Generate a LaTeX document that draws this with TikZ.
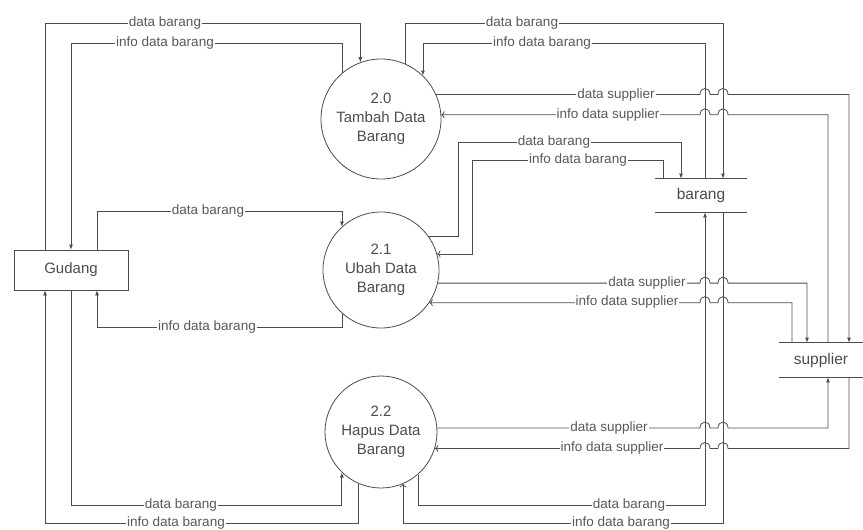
\documentclass[tikz,border=0pt]{standalone}
\usepackage{fontspec}
\setmainfont{Liberation Sans}
\usetikzlibrary{arrows.meta,calc}
\begin{document}
\begin{tikzpicture}[x=1pt,y=-1pt,line width=0.8pt,
  flow/.style={draw=black!70, -{Latex[length=5pt,width=4pt]}},
  proc/.style={draw=black!70, circle, align=center, inner sep=0pt, text=black!70, font=\fontsize{15}{19}\selectfont},
  ent/.style={draw=black!70, rectangle, minimum width=114pt, minimum height=40pt, text=black!70, font=\fontsize{15}{18}\selectfont},
  store/.style={rectangle, text=black!70, font=\fontsize{15.5}{18}\selectfont},
  lbl/.style={fill=white, inner xsep=1pt, inner ysep=0.5pt, text=black!65, font=\fontsize{13.5}{14}\selectfont},
  hop/.style={to path={-- ($(\tikztotarget)+(-5,0)$) .. controls +(0,-8) and +(0,-8) .. ($(\tikztotarget)+(5,0)$)}}]
\useasboundingbox (0,0) rectangle (863,530);
\node[ent] (gud) at (71,270) {Gudang};
\node[proc, minimum size=120pt] (p20) at (381,119) {2.0\\Tambah Data\\Barang};
\node[proc, minimum size=116pt] (p21) at (381,270) {2.1\\Ubah Data\\Barang};
\node[proc, minimum size=112pt] (p22) at (381,432) {2.2\\Hapus Data\\Barang};
\node[store, minimum width=92pt, minimum height=33pt] (brg) at (701,195.5) {barang};
\node[store, minimum width=84pt, minimum height=34pt] (sup) at (821,360) {supplier};
\draw[black!70] (brg.north west) -- (brg.north east) (brg.south west) -- (brg.south east);
\draw[black!70] (sup.north west) -- (sup.north east) (sup.south west) -- (sup.south east);

\draw[flow] ([xshift=-26pt]gud.north) |- (p20.110 |- 0,23) -- (p20.110);
\draw[flow] (p20.130) |- (gud.north |- 0,43) -- (gud.north);
\draw[flow] ([xshift=26pt]gud.north) |- (p21.132 |- 0,211) -- (p21.132);
\draw[flow] (p21.228) |- (97,327) -- ([xshift=26pt]gud.south);
\draw[flow] (gud.south) |- (p22.226 |- 0,505) -- (p22.226);
\draw[flow] (p22.246) |- (45,523) -- ([xshift=-26pt]gud.south);

\draw[flow] (p20.66) |- (723,23) -- ([xshift=22pt]brg.north);
\draw[flow] ([xshift=4pt]brg.north) |- (p20.46 |- 0,43) -- (p20.46);
\draw[flow] (p21.35) -| (458,142) -| ([xshift=-20pt]brg.north);
\draw[flow,<-] (p21.16) -| (472,160) -| ([xshift=-38pt]brg.north);
\draw[flow] (p22.311) |- (705,505) -- ([xshift=4pt]brg.south);
\draw[flow,<-] (p22.293) |- (723,523) -- ([xshift=22pt]brg.south);

\draw[flow] (p20.24) to[hop] (p20.24 -| 705,0) to[hop] (p20.24 -| 723,0) -| ([xshift=28pt]sup.north);
\draw[flow,<-] (p20.4) to[hop] (p20.4 -| 705,0) to[hop] (p20.4 -| 723,0) -| ([xshift=7pt]sup.north);
\draw[flow] (p21.347) to[hop] (p21.347 -| 705,0) to[hop] (p21.347 -| 723,0) -| ([xshift=-14pt]sup.north);
\draw[flow,<-] (p21.326) to[hop] (p21.326 -| 705,0) to[hop] (p21.326 -| 723,0) -| ([xshift=-29pt]sup.north);
\draw[flow] (p22.4) to[hop] (p22.4 -| 705,0) to[hop] (p22.4 -| 723,0) -| ([xshift=7pt]sup.south);
\draw[flow,<-] (p22.343) to[hop] (p22.343 -| 705,0) to[hop] (p22.343 -| 723,0) -| ([xshift=28pt]sup.south);

\node[lbl] (l1) at (165,23) {data barang};
\node[lbl] (l2) at (165,43) {info data barang};
\node[lbl] (l3) at (208,211) {data barang};
\node[lbl] (l4) at (207,327) {info data barang};
\node[lbl] (l5) at (181,505) {data barang};
\node[lbl] (l6) at (176,523) {info data barang};
\node[lbl] (l7) at (522,23) {data barang};
\node[lbl] (l8) at (542,43) {info data barang};
\node[lbl] (l9) at (616,95) {data supplier};
\node[lbl] (l10) at (608,115) {info data supplier};
\node[lbl] (l11) at (554,142) {data barang};
\node[lbl] (l12) at (578,160) {info data barang};
\node[lbl] (l13) at (647,283) {data supplier};
\node[lbl] (l14) at (627,302) {info data supplier};
\node[lbl] (l15) at (609,428) {data supplier};
\node[lbl] (l16) at (612,448) {info data supplier};
\node[lbl] (l17) at (629,505) {data barang};
\node[lbl] (l18) at (621,523) {info data barang};
\end{tikzpicture}
\end{document}
